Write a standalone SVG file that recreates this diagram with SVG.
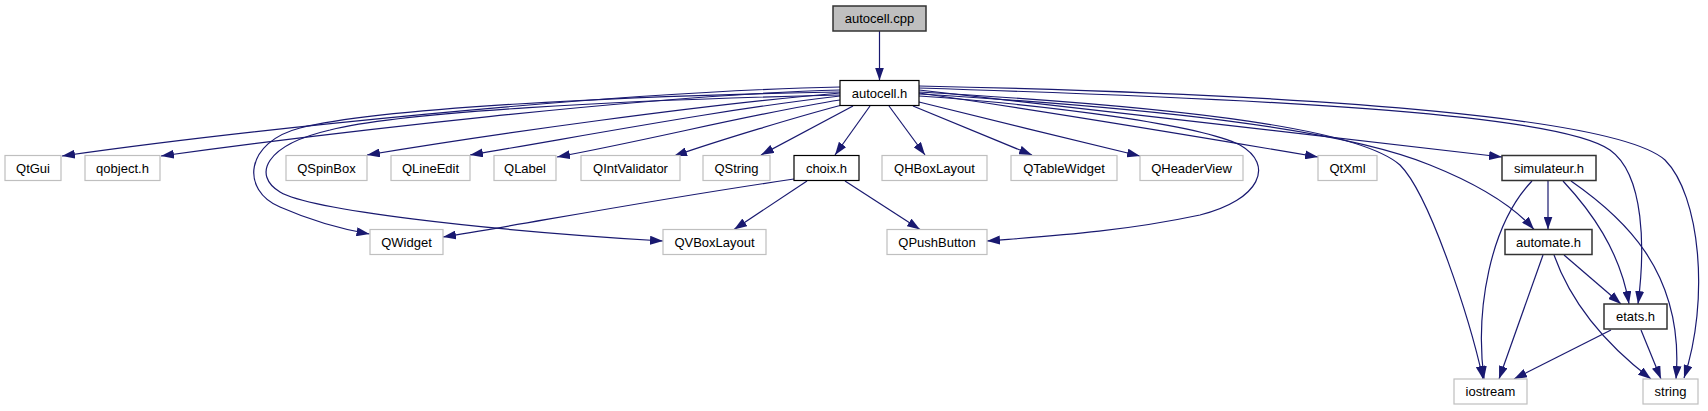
<svg xmlns="http://www.w3.org/2000/svg" width="1708" height="411" viewBox="0 0 1708 411">
<defs>
<marker id="ah" viewBox="0 0 13 9" refX="13" refY="4.5" markerWidth="13" markerHeight="9" markerUnits="userSpaceOnUse" orient="auto">
<path d="M0,0 L13,4.5 L0,9 z" fill="#191970"/>
</marker>
<style>
.n rect{fill:#ffffff;stroke:#bfbfbf;stroke-width:1.2}
.n.d rect{stroke:#000000;stroke-width:1.2}
.n.r rect{stroke:#333333;stroke-width:1.5}
.n.m rect{fill:#bfbfbf;stroke:#333333;stroke-width:1.5}
.n text{font-family:"Liberation Sans",Arial,Helvetica,sans-serif;font-size:13px;text-anchor:middle;fill:#000000}
#edges path{fill:none;stroke:#191970;stroke-width:1.2;marker-end:url(#ah)}
</style>
</defs>
<rect x="0" y="0" width="1708" height="411" fill="#ffffff"/>
<g id="edges">
<path d="M879.5,31 L879.5,80.5"/>
<path d="M840,87 C600,92 230,132 62,156"/>
<path d="M840,90 C650,95 320,134 161,156"/>
<path d="M840,93 C700,105 500,133 367,155"/>
<path d="M840,96 C720,110 600,133 470,155"/>
<path d="M840,100 C760,112 650,140 557,157"/>
<path d="M842,105 C800,116 720,140 674,156"/>
<path d="M853,106 L761,155"/>
<path d="M870,106 L835,155"/>
<path d="M889,106 L925,155"/>
<path d="M913,106 L1032,155"/>
<path d="M919,102 C980,117 1080,142 1140,156"/>
<path d="M840,92 C620,96 380,108 300,128 C245,142 240,190 280,207 C305,218 335,228 369.5,234"/>
<path d="M840,95 C620,100 400,112 330,130 C265,145 252,175 280,192 C310,210 480,230 663,241"/>
<path d="M919,96 C1050,105 1200,125 1240,145 C1275,165 1260,200 1200,215 C1120,232 1050,236 987,241"/>
<path d="M919,93 C1050,112 1200,137 1318,157"/>
<path d="M919,90 C1100,110 1350,140 1502,157"/>
<path d="M919,94 C1150,108 1340,128 1430,165 C1480,185 1515,208 1534,229.5"/>
<path d="M919,92 C1200,108 1360,130 1400,165 C1430,195 1470,320 1483,379"/>
<path d="M919,88 C1300,100 1560,115 1610,150 C1645,175 1645,250 1638,304"/>
<path d="M919,86 C1350,95 1620,120 1665,160 C1700,195 1710,300 1684,378"/>
<path d="M1548,181 L1548,229.5"/>
<path d="M1532,181 C1490,225 1475,310 1484,379"/>
<path d="M1563,181 C1590,210 1620,250 1629,304"/>
<path d="M1571,181 C1620,215 1685,270 1676,379"/>
<path d="M1564,255 L1621,304"/>
<path d="M1543,255 L1499,379"/>
<path d="M1554,255 C1570,300 1600,340 1651,379"/>
<path d="M1611,330 L1514,379"/>
<path d="M1641,330 L1661,379"/>
<path d="M794,179 C650,200 520,225 443,237"/>
<path d="M807,181 L734,229.5"/>
<path d="M845,181 L920,229.5"/>
</g>
<g id="n_autocell_cpp" class="n m"><rect x="833" y="6" width="93" height="25"/><text x="879.5" y="23">autocell.cpp</text></g>
<g id="n_autocell_h" class="n d"><rect x="840" y="80.5" width="79" height="25"/><text x="879.5" y="97.5">autocell.h</text></g>
<g id="n_QtGui" class="n"><rect x="5" y="155.5" width="56" height="25"/><text x="33" y="172.5">QtGui</text></g>
<g id="n_qobject" class="n"><rect x="85" y="155.5" width="75" height="25"/><text x="122.5" y="172.5">qobject.h</text></g>
<g id="n_QSpinBox" class="n"><rect x="286" y="155.5" width="81" height="25"/><text x="326.5" y="172.5">QSpinBox</text></g>
<g id="n_QLineEdit" class="n"><rect x="391" y="155.5" width="79" height="25"/><text x="430.5" y="172.5">QLineEdit</text></g>
<g id="n_QLabel" class="n"><rect x="494" y="155.5" width="62" height="25"/><text x="525" y="172.5">QLabel</text></g>
<g id="n_QIntValidator" class="n"><rect x="581" y="155.5" width="99" height="25"/><text x="630.5" y="172.5">QIntValidator</text></g>
<g id="n_QString" class="n"><rect x="703" y="155.5" width="67" height="25"/><text x="736.5" y="172.5">QString</text></g>
<g id="n_choix" class="n d"><rect x="794" y="155.5" width="65" height="25"/><text x="826.5" y="172.5">choix.h</text></g>
<g id="n_QHBoxLayout" class="n"><rect x="882" y="155.5" width="105" height="25"/><text x="934.5" y="172.5">QHBoxLayout</text></g>
<g id="n_QTableWidget" class="n"><rect x="1011" y="155.5" width="106" height="25"/><text x="1064" y="172.5">QTableWidget</text></g>
<g id="n_QHeaderView" class="n"><rect x="1140" y="155.5" width="103" height="25"/><text x="1191.5" y="172.5">QHeaderView</text></g>
<g id="n_QtXml" class="n"><rect x="1318" y="155.5" width="59" height="25"/><text x="1347.5" y="172.5">QtXml</text></g>
<g id="n_simulateur" class="n r"><rect x="1502" y="155.5" width="94" height="25"/><text x="1549" y="172.5">simulateur.h</text></g>
<g id="n_QWidget" class="n"><rect x="370" y="229.5" width="73" height="25"/><text x="406.5" y="246.5">QWidget</text></g>
<g id="n_QVBoxLayout" class="n"><rect x="663" y="229.5" width="103" height="25"/><text x="714.5" y="246.5">QVBoxLayout</text></g>
<g id="n_QPushButton" class="n"><rect x="887" y="229.5" width="100" height="25"/><text x="937" y="246.5">QPushButton</text></g>
<g id="n_automate" class="n r"><rect x="1505" y="229.5" width="87" height="25"/><text x="1548.5" y="246.5">automate.h</text></g>
<g id="n_etats" class="n r"><rect x="1604" y="304" width="63" height="25"/><text x="1635.5" y="321">etats.h</text></g>
<g id="n_iostream" class="n"><rect x="1454" y="379" width="73" height="25"/><text x="1490.5" y="396">iostream</text></g>
<g id="n_string" class="n"><rect x="1643" y="379" width="55" height="25"/><text x="1670.5" y="396">string</text></g>
</svg>
